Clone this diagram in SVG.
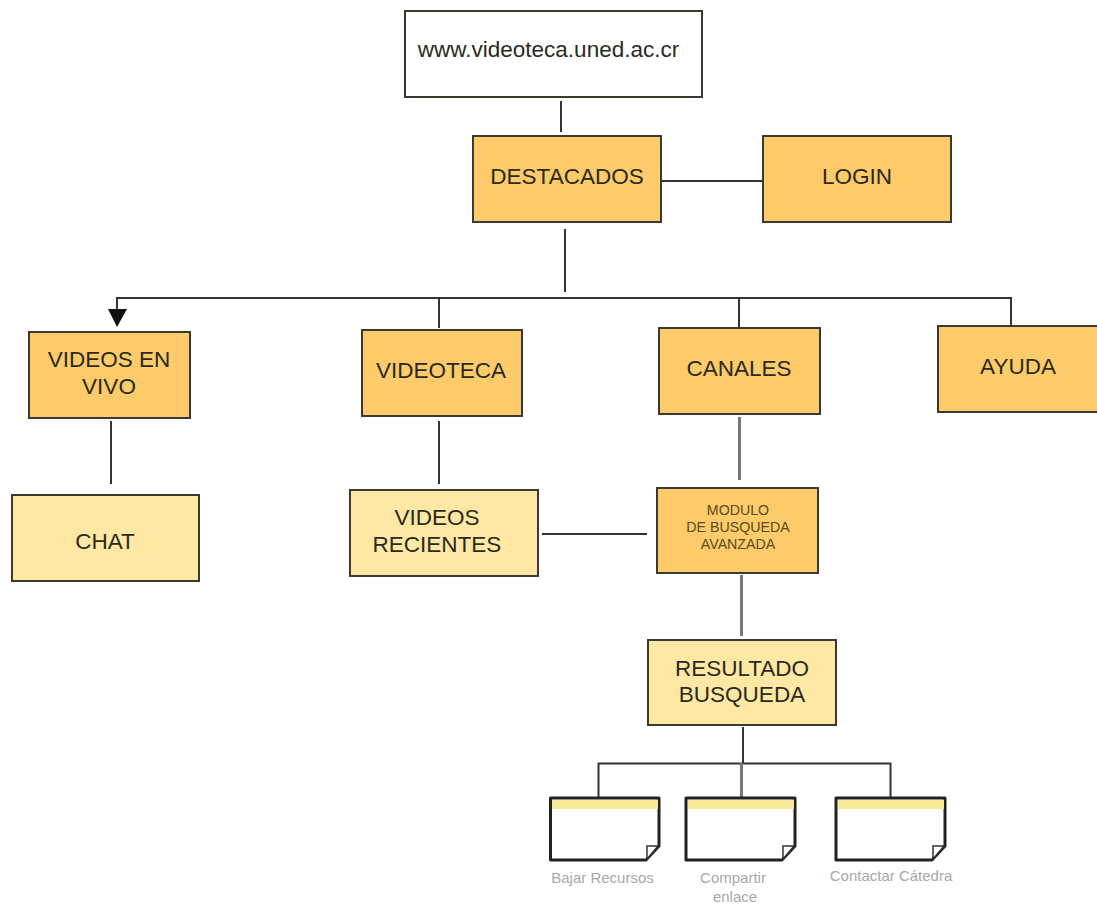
<svg xmlns="http://www.w3.org/2000/svg" width="1097" height="906" viewBox="0 0 1097 906">
<style>
text{font-family:"Liberation Sans",Arial,sans-serif;text-anchor:middle;fill:#2a2a20}
.b{stroke:#3a3a32;stroke-width:2}
.o{fill:#fdcb69}.l{fill:#ffe8a3}.w{fill:#fff}
.t{font-size:22.5px}
.s{font-size:14.2px;fill:#5a4a20}
.c{font-size:15px;fill:#a8a8a8}
.k{fill:none;stroke:#333;stroke-width:2}
.g{fill:none;stroke:#777;stroke-width:3}
.d{fill:#fff;stroke:#222;stroke-width:3;stroke-linejoin:round}
.y{fill:#f9ea9a}
.f{fill:#fff;stroke:#333;stroke-width:1.5}
</style>
<g id="connectors">
<path class="k" d="M561 101V132"/>
<path class="k" d="M662 181H763"/>
<path class="k" d="M565 229V292"/>
<path class="k" d="M117 312V298H1011V326"/>
<path class="k" d="M439 298V328"/>
<path class="k" d="M739 298V328"/>
<path d="M108 309H127L117 327Z" fill="#111"/>
<path class="k" d="M111 421V484"/>
<path class="k" d="M439 421V484"/>
<path class="g" d="M739.500 417V480"/>
<path class="k" d="M542 534H647"/>
<path class="g" d="M741.500 575V636"/>
<path class="k" d="M743 727V763"/>
<path class="k" d="M598.500 797V763.500H890.500V797"/>
<path class="g" d="M741.500 763V797"/>
</g>
<g id="n-url"><rect class="b w" x="405" y="11" width="297" height="86"/><text class="t" x="548.500" y="57">www.videoteca.uned.ac.cr</text></g>
<g id="n-destacados"><rect class="b o" x="473" y="136" width="188" height="86"/><text class="t" x="567" y="184">DESTACADOS</text></g>
<g id="n-login"><rect class="b o" x="763" y="136" width="188" height="86"/><text class="t" x="857" y="184">LOGIN</text></g>
<g id="n-vivo"><rect class="b o" x="29" y="332" width="161" height="86"/><text class="t" x="109" y="367">VIDEOS EN</text><text class="t" x="109" y="394">VIVO</text></g>
<g id="n-videoteca"><rect class="b o" x="362" y="330" width="160" height="86"/><text class="t" x="441" y="378">VIDEOTECA</text></g>
<g id="n-canales"><rect class="b o" x="659" y="328" width="161" height="86"/><text class="t" x="739" y="376">CANALES</text></g>
<g id="n-ayuda"><rect class="b o" x="938" y="326" width="161" height="86"/><text class="t" x="1018" y="374">AYUDA</text></g>
<g id="n-chat"><rect class="b l" x="12" y="495" width="187" height="86"/><text class="t" x="105" y="549">CHAT</text></g>
<g id="n-recientes"><rect class="b l" x="350" y="490" width="188" height="86"/><text class="t" x="437" y="525">VIDEOS</text><text class="t" x="437" y="552">RECIENTES</text></g>
<g id="n-modulo"><rect class="b o" x="657" y="488" width="161" height="85"/><text class="s" x="738" y="515">MODULO</text><text class="s" x="738" y="532">DE BUSQUEDA</text><text class="s" x="738" y="549">AVANZADA</text></g>
<g id="n-resultado"><rect class="b l" x="648" y="640" width="188" height="85"/><text class="t" x="742" y="676">RESULTADO</text><text class="t" x="742" y="702">BUSQUEDA</text></g>
<g id="n-bajar"><path class="d" d="M550.500 798H659V846L646 860H550.500Z"/><rect class="y" x="552" y="800" width="106" height="9"/><path class="f" d="M647 859V846H658Z"/><text class="c" x="602.500" y="883">Bajar Recursos</text></g>
<g id="n-compartir"><path class="d" d="M686 798H795V846L782 860H686Z"/><rect class="y" x="688" y="800" width="106" height="9"/><path class="f" d="M783 859V846H794Z"/><text class="c" x="733" y="883">Compartir</text><text class="c" x="735" y="902">enlace</text></g>
<g id="n-contactar"><path class="d" d="M836 798H945V846L932 860H836Z"/><rect class="y" x="838" y="800" width="106" height="9"/><path class="f" d="M933 859V846H944Z"/><text class="c" x="891" y="881">Contactar Cátedra</text></g>
</svg>
